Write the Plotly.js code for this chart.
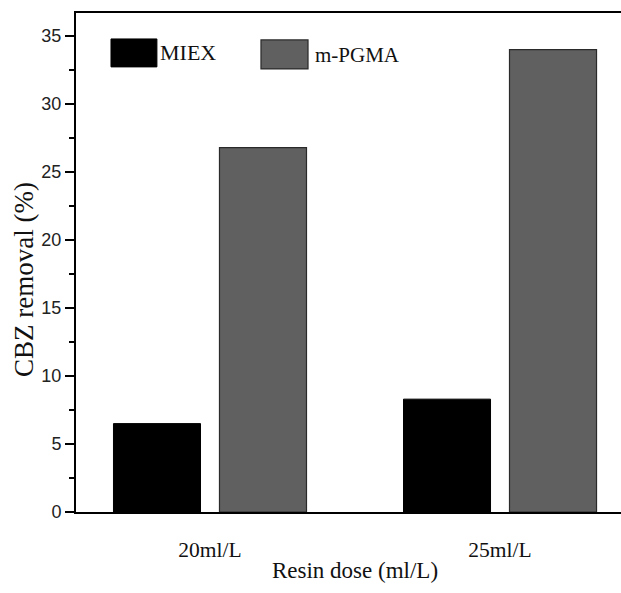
<!DOCTYPE html>
<html>
<head>
<meta charset="utf-8">
<script src="https://cdn.plot.ly/plotly-3.0.1.min.js"></script>
<style>
html,body{margin:0;padding:0;overflow:hidden;background:#fff;}
#chart{width:660px;height:593px;}
</style>
</head>
<body>
<div id="chart"></div>
<script>
const categories = ["20ml/L", "25ml/L"];
const seriesNames = ["MIEX", "m-PGMA"];
const miexValues = [6.5, 8.3];
const pgmaValues = [26.8, 34.0];
const yTickValues = [0, 5, 10, 15, 20, 25, 30, 35];
const xTitle = "Resin dose (ml/L)";
const yTitle = "CBZ removal (%)";

const catIndex = categories.map((c, i) => i);

const traces = [
  {
    type: "bar", name: seriesNames[0], x: catIndex, y: miexValues,
    marker: {color: "#000000", line: {color: "#000000", width: 1}}
  },
  {
    type: "bar", name: seriesNames[1], x: catIndex, y: pgmaValues,
    marker: {color: "#606060", line: {color: "#2a2a2a", width: 1.2}}
  }
];

const serif = "Liberation Serif, Times New Roman, serif";
const sans = "Liberation Sans, Arial, sans-serif";

const layout = {
  width: 660, height: 593,
  margin: {l: 76, r: 26, t: 13, b: 81},
  paper_bgcolor: "#fff", plot_bgcolor: "#fff",
  showlegend: false,
  barmode: "group",
  bargap: 0.269,
  bargroupgap: 0.179,
  xaxis: {
    type: "linear",
    range: [-0.462, 1.462],
    tickvals: catIndex,
    ticktext: categories,
    ticks: "",
    showgrid: false, zeroline: false,
    showline: true, linecolor: "#000", linewidth: 2, mirror: true,
    tickfont: {family: serif, size: 21.5, color: "#111"},
    ticklabelstandoff: 17,
    title: {text: xTitle, font: {family: serif, size: 23, color: "#111"}, standoff: 1}
  },
  yaxis: {
    range: [0, 36.7],
    tickvals: yTickValues,
    ticks: "outside", ticklen: 9, tickwidth: 1.5, tickcolor: "#000",
    minor: {dtick: 2.5, ticks: "outside", ticklen: 5, tickwidth: 1.5, tickcolor: "#000", showgrid: false},
    showgrid: false, zeroline: false,
    showline: true, linecolor: "#000", linewidth: 2, mirror: true,
    tickfont: {family: sans, size: 18, color: "#222"}
  },
  shapes: [
    {type: "rect", xref: "paper", yref: "paper", x0: 0.0627, x1: 0.145, y0: 0.892, y1: 0.948,
     fillcolor: "#000", line: {color: "#000", width: 1}},
    {type: "rect", xref: "paper", yref: "paper", x0: 0.3315, x1: 0.4158, y0: 0.888, y1: 0.946,
     fillcolor: "#606060", line: {color: "#2a2a2a", width: 1.2}}
  ],
  annotations: [
    {xref: "paper", yref: "paper", x: 0.147, y: 0.92, xanchor: "left", yanchor: "middle",
     text: seriesNames[0], showarrow: false, font: {family: serif, size: 22, color: "#111"}},
    {xref: "paper", yref: "paper", x: 0.4245, y: 0.916, xanchor: "left", yanchor: "middle",
     text: seriesNames[1], showarrow: false, font: {family: serif, size: 21, color: "#111"}},
    {xref: "paper", yref: "paper", x: -0.0932, y: 0.467, xanchor: "center", yanchor: "middle",
     textangle: -90, text: yTitle, showarrow: false, font: {family: serif, size: 27, color: "#111"}}
  ]
};

Plotly.newPlot("chart", traces, layout, {displayModeBar: false, staticPlot: true});
</script>
</body>
</html>
